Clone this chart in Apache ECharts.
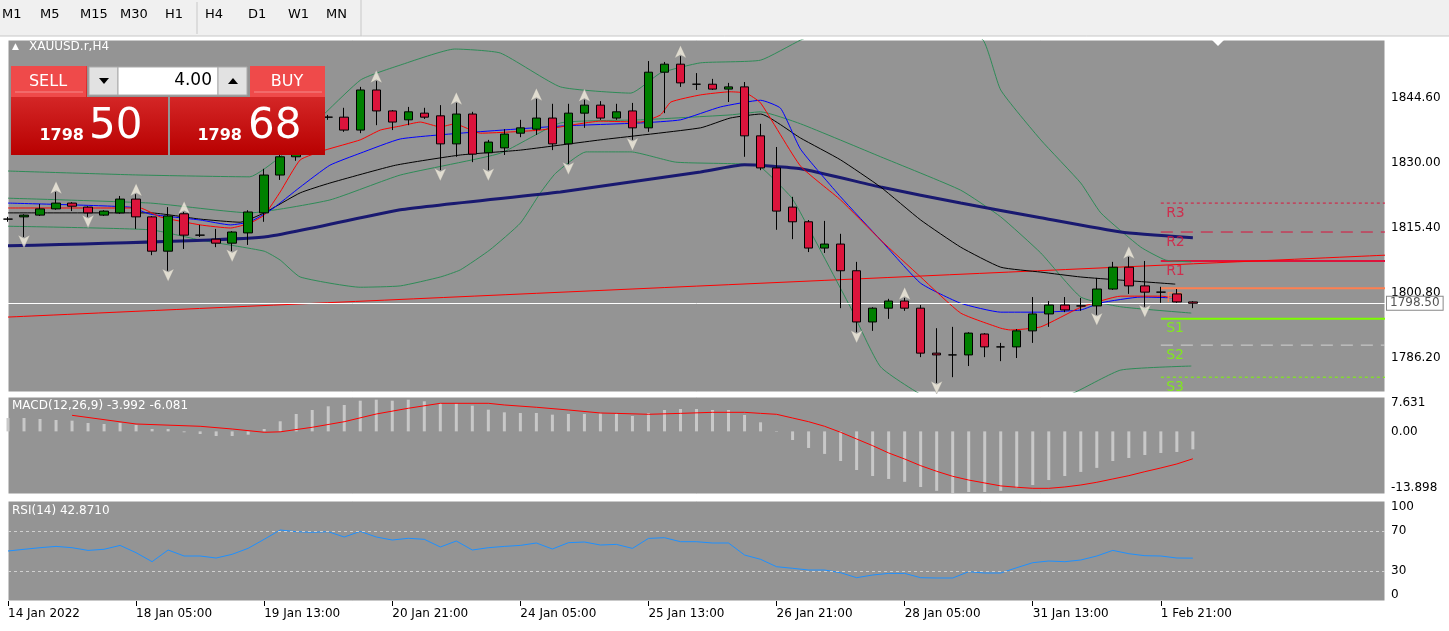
<!DOCTYPE html>
<html><head><meta charset="utf-8">
<script src="https://cdn.jsdelivr.net/npm/echarts@6/dist/echarts.min.js"></script>
<style>html,body{margin:0;padding:0;background:#fff}#c{width:1449px;height:631px}</style>
</head><body><div id="c"></div>
<script>
// ---------- DATA ----------
const tickLabels = ['14 Jan 2022','18 Jan 05:00','19 Jan 13:00','20 Jan 21:00','24 Jan 05:00','25 Jan 13:00','26 Jan 21:00','28 Jan 05:00','31 Jan 13:00','1 Feb 21:00'];
const priceTicks = [1786.20,1800.80,1815.40,1830.00,1844.60];
// [open, close, low, high]
const candles = [
[1817.4,1817.4,1816.8,1817.9],[1817.9,1818.3,1813.4,1818.5],[1818.3,1819.7,1818.1,1820.8],[1819.7,1821.0,1819.5,1823.5],
[1821.0,1820.3,1819.2,1821.2],[1820.1,1818.8,1817.9,1820.3],[1818.3,1819.2,1818.1,1819.4],[1818.8,1821.9,1818.6,1822.6],
[1821.9,1817.9,1815.2,1823.0],[1817.9,1810.2,1809.3,1818.1],[1810.2,1818.1,1805.8,1820.1],[1818.6,1813.8,1810.7,1819.0],
[1813.8,1813.8,1813.4,1816.1],[1812.9,1812.0,1811.1,1815.2],[1812.0,1814.5,1810.2,1814.7],[1814.3,1819.0,1811.6,1819.4],
[1818.8,1827.3,1816.8,1828.7],[1827.3,1831.4,1826.2,1832.0],[1831.4,1836.3,1830.5,1837.5],[1836.3,1839.7,1835.0,1841.5],
[1840.3,1840.3,1839.7,1840.8],[1840.3,1837.4,1837.0,1842.4],[1837.4,1846.4,1836.7,1847.1],[1846.4,1841.7,1838.5,1848.4],
[1841.7,1839.2,1837.4,1841.9],[1839.7,1841.5,1838.5,1842.6],[1841.2,1840.3,1839.9,1842.4],[1840.6,1834.3,1828.4,1843.0],
[1834.3,1841.0,1831.4,1843.5],[1841.0,1832.0,1830.2,1841.5],[1832.3,1834.7,1828.4,1835.2],[1833.4,1836.5,1831.8,1837.6],
[1836.7,1837.9,1835.8,1839.7],[1837.6,1840.1,1836.3,1844.4],[1840.1,1834.3,1832.9,1843.3],[1834.3,1841.2,1829.8,1843.3],
[1841.2,1843.0,1837.9,1844.2],[1843.0,1840.1,1839.7,1843.9],[1840.1,1841.5,1839.7,1843.3],[1841.7,1837.9,1835.2,1843.5],
[1837.9,1850.4,1837.0,1852.9],[1850.4,1852.2,1841.2,1852.7],[1852.2,1848.0,1847.1,1854.0],[1847.7,1847.7,1846.4,1850.2],
[1847.7,1846.6,1846.4,1848.9],[1846.6,1847.1,1843.7,1848.0],[1847.1,1836.1,1831.4,1848.2],[1836.1,1828.9,1828.4,1838.8],
[1828.9,1819.2,1815.0,1833.6],[1820.1,1816.8,1812.9,1822.4],[1816.8,1810.9,1810.0,1817.2],[1810.9,1811.8,1809.8,1817.0],
[1811.8,1805.8,1797.4,1814.1],[1805.8,1794.3,1792.0,1807.8],[1794.3,1797.4,1792.3,1797.6],[1797.4,1799.0,1795.0,1799.5],
[1799.0,1797.4,1796.8,1799.7],[1797.4,1787.3,1786.4,1798.1],[1787.3,1786.9,1780.6,1792.9],[1786.9,1786.9,1781.9,1793.2],
[1786.9,1791.8,1784.4,1792.0],[1791.6,1788.7,1786.4,1791.8],[1788.7,1788.7,1785.5,1789.6],[1788.7,1792.3,1786.2,1792.7],
[1792.3,1796.1,1789.6,1799.9],[1796.1,1798.1,1793.2,1799.0],[1798.1,1797.0,1796.5,1799.9],[1797.9,1797.9,1796.8,1799.7],
[1797.9,1801.7,1795.9,1804.2],[1801.7,1806.6,1801.5,1807.8],[1806.6,1802.4,1800.6,1808.9],[1802.4,1801.0,1797.7,1808.0],
[1801.0,1801.0,1798.6,1802.2],[1800.6,1798.8,1798.6,1801.7],[1798.8,1798.5,1797.4,1799.0]
];
const fractalUp = [3,8,11,23,28,33,36,42,56,70];
const fractalDown = [1,5,10,14,27,30,35,39,53,58,68,71];
// indicator lines: [bar index, price]
const maFast = [[0,1819.9],[8.25,1819.9],[9.5,1817.9],[12,1816.1],[13.9,1815.4],[15.1,1816.5],[16,1818.3],[17,1823.5],[18.25,1830.7],[19.8,1832.9],[22,1835.2],[23.25,1837.4],[24.5,1838.3],[25.75,1839.2],[27,1838.1],[27.9,1838.8],[29.5,1836.7],[33.25,1837.4],[37,1839.4],[39.5,1839.2],[40.75,1840.8],[41.4,1843.7],[43.25,1845.3],[45.1,1846.0],[46.1,1845.7],[47,1843.5],[49.5,1829.3],[52,1821.7],[54.5,1812.7],[57,1804.4],[59.5,1796.3],[62,1792.9],[62.6,1792.5],[64.5,1793.2],[67,1797.6],[69.5,1800.1],[72,1800.1],[72.9,1799.7]];
const maMid = [[0,1821.0],[7.6,1820.1],[8.9,1818.5],[12,1817.2],[13.9,1816.1],[15.1,1816.8],[16.4,1819.4],[18.25,1824.6],[20.1,1829.5],[22,1832.2],[24.5,1835.4],[28.25,1836.7],[34.5,1838.3],[39.5,1839.0],[42,1839.7],[44.5,1842.6],[47,1844.1],[48.25,1842.3],[49.5,1833.1],[52,1822.4],[54.5,1812.7],[57,1803.0],[59.5,1798.5],[62,1796.5],[64.5,1796.5],[67,1797.0],[68.25,1798.6],[70.75,1799.9],[72.9,1799.7]];
const maSlow = [[0,1818.8],[8.9,1818.8],[12,1817.4],[14.5,1816.7],[16,1818.8],[18.25,1823.3],[20.1,1825.5],[24.2,1829.5],[28.25,1831.8],[32,1832.9],[37,1835.2],[43.25,1837.9],[45.1,1840.1],[47,1841.0],[49.5,1835.6],[52,1830.7],[54.5,1824.6],[57,1817.2],[59.5,1811.1],[62,1806.6],[64.5,1805.5],[67,1804.4],[69.5,1803.7],[72.9,1802.8]];
const maLong = [[0,1811.4],[16,1813.4],[24.5,1819.5],[34.5,1823.5],[43.25,1828.0],[46,1829.6],[49.5,1828.7],[54.5,1824.6],[59.5,1821.0],[64.5,1817.7],[69.5,1814.5],[74,1813.2]];
const bbUpper = [[0,1828.2],[8.25,1827.3],[15.1,1826.9],[17,1831.4],[22,1848.6],[24.5,1852.0],[27.9,1855.6],[30.75,1854.7],[34.5,1847.1],[38.9,1845.7],[40.75,1850.2],[43.25,1852.5],[47,1853.1],[49.5,1857.6],[52.6,1862],[55.75,1864],[58.25,1863],[60.9,1857.6],[62,1846.4],[64.5,1835.2],[67,1825.5],[68.25,1818.8],[70.75,1811.1],[72.3,1808.2],[73.9,1807.8]];
const bbMiddle = [[0,1822.1],[8.9,1821.0],[15.1,1818.8],[20.1,1821.7],[24.5,1827.3],[30.75,1832.2],[34.5,1839.0],[39.5,1839.7],[45.1,1840.8],[47,1841.5],[49.5,1838.8],[54.5,1831.4],[59.5,1823.9],[62,1817.9],[64.5,1809.8],[67,1799.9],[69.5,1797.7],[73.9,1796.3]];
const bbLower = [[0,1815.8],[8.9,1815.0],[12,1812.7],[16,1810.2],[17,1808.2],[18.25,1804.4],[22,1802.1],[24.5,1802.4],[27,1804.4],[28.25,1806.0],[30.1,1810.5],[32,1816.5],[33.25,1823.3],[34.2,1827.7],[36.1,1832.5],[38.9,1832.5],[41.7,1830.2],[45.75,1829.8],[47,1829.1],[48.9,1822.4],[49.5,1818.8],[52.6,1797.7],[54.5,1784.2],[57.6,1776.8],[60.75,1773.4],[63.9,1774.5],[66.7,1778.6],[69.5,1783.5],[73.9,1784.4]];
const trendLine = [[0,1795.4],[86,1809.3]];
const pivots = [['R3',1821.0],['R2',1814.5],['R1',1808.0],['PP',1801.9],['S1',1795.0],['S2',1789.1],['S3',1781.9]];
const bidPrice = 1798.50;
const macdHist = [2.97,2.97,2.75,2.53,2.38,1.86,1.64,1.86,1.42,0.53,0.53,-0.2,-0.58,-1.02,-1.02,-0.73,0.53,2.24,3.86,4.75,5.57,5.86,6.81,7.04,6.81,7.04,6.68,6.30,6.23,5.70,4.82,4.23,4.08,4.08,3.71,3.86,3.86,4.0,3.86,3.42,4.08,4.75,4.97,4.97,4.75,4.75,3.64,2.01,-0.1,-1.91,-3.68,-5.0,-6.57,-8.57,-9.9,-10.56,-11.2,-12.34,-13.2,-13.67,-13.45,-13.45,-13.2,-12.56,-11.9,-10.8,-9.9,-9.0,-8.1,-6.57,-5.9,-5.24,-4.79,-4.57,-3.99];
const macdSignal = [[4,3.57],[8,1.64],[12,1.13],[14,0.53],[16,-0.2],[17,-0.1],[19,0.91],[21,2.15],[23,3.86],[25,5.13],[27,6.23],[30,6.23],[31,5.86],[33,5.35],[35,4.75],[37,4.08],[38,4.0],[40,3.79],[42,4.0],[44,4.23],[46,4.23],[47,4.0],[48,3.79],[49,2.97],[50,2.15],[51,1.13],[52,-0.2],[53,-1.69],[54,-3.17],[55,-4.79],[56,-6.13],[57,-7.61],[58,-8.86],[59,-9.97],[60,-10.8],[61,-11.45],[62,-12.1],[63,-12.4],[64,-12.64],[65,-12.64],[66,-12.34],[67,-11.9],[68,-11.3],[69,-10.56],[70,-9.83],[71,-8.94],[72,-8.12],[73,-7.23],[74,-6.08]];
const rsi = [50,51.7,53.3,54.6,53.3,50.6,51.7,55.6,48.3,39.3,51,45,45,43,46.7,52.7,61.7,71,69.3,68.7,69.3,64,69.6,64,61,62.7,61.7,54,60,51,53.3,54.6,55.6,58,52,58.3,59,56,56.6,52.6,62.6,63.3,59.3,59.3,58,58,46,41.7,34.3,32.7,31,31,28.3,23.3,26,27.6,27.6,23.3,23,23,29.3,28,28,33.3,38.3,40,39.3,41,45,50.6,47.3,45.3,45,43,42.87];

// ---------- CHART ----------
const NBARS = 87;
const cats = Array.from({length:NBARS},(_, i)=> (i%8===0 && i/8 < tickLabels.length) ? tickLabels[i/8] : ' '+i);
const isTick = i => i%8===0 && i/8 < tickLabels.length;
const F = 'DejaVu Sans';
const chart = echarts.init(document.getElementById('c'));
const BG = '#949494';
const gridBase = {left:8, width:1377, show:true, backgroundColor:BG, borderColor:'#fff', borderWidth:1};
const catAxis = (gi, show) => ({type:'category', gridIndex:gi, data:cats, boundaryGap:false,
  axisLine:{show:false}, axisTick:{show:show, interval:isTick, length:5, lineStyle:{color:'#000'}},
  axisLabel:{show:show, interval:isTick, align:'left', color:'#000', fontFamily:F, fontSize:12, margin:7,
    formatter:v=> v.startsWith(' ')?'':v}, splitLine:{show:false}});
const labStyle = {color:'#000', fontFamily:F, fontSize:12, margin:6};
const pivotColor = n => n[0]==='R' ? '#dc143c' : (n==='PP' ? '#ff7f50' : '#7cfc00');
const pivotStyle = {R3:{type:[3,3],width:1},R2:{type:[12,8],width:1},R1:{type:'solid',width:2},PP:{type:'solid',width:2},S1:{type:'solid',width:2},S2:{type:[12,8],width:1},S3:{type:[3,3],width:1}};
const lineS = (data, color, width) => ({type:'line', xAxisIndex:3, yAxisIndex:0, data, showSymbol:false, smooth:0.15,
  lineStyle:{color, width}, silent:true, z:3});

const series = [
  lineS(trendLine,'#ff0000',1),
  lineS(bbUpper,'#2e8b57',1), lineS(bbMiddle,'#2e8b57',1), lineS(bbLower,'#2e8b57',1),
  lineS(maLong,'#191970',3), lineS(maSlow,'#000000',1), lineS(maMid,'#0000ff',1), lineS(maFast,'#ff0000',1),
  ...pivots.map(([n,v]) => ({type:'line', xAxisIndex:3, yAxisIndex:0, data:[[72,v],[86,v]], showSymbol:false, z:2,
     lineStyle:{color: n==='S2' ? '#d3d3d3' : pivotColor(n), width:pivotStyle[n].width, type:pivotStyle[n].type}})),
  {type:'scatter', xAxisIndex:3, yAxisIndex:0, symbolSize:1, itemStyle:{color:'rgba(0,0,0,0)'}, z:4,
   data: pivots.map(([n,v]) => ({value:[72.3,v], label:{show:true, formatter:n, position:'right', offset:[-5,10],
     color:pivotColor(n), fontFamily:F, fontSize:14}}))},
  {type:'candlestick', xAxisIndex:0, yAxisIndex:0, data:candles, barWidth:9, z:5,
   itemStyle:{color:'#008000', color0:'#dc143c', borderColor:'#000', borderColor0:'#000', borderWidth:1},
   markLine:{silent:true, symbol:'none', data:[{yAxis:bidPrice}], lineStyle:{color:'#fff', width:1, type:'solid'},
     label:{show:true, position:'end', formatter:'1798.50', color:'#555', backgroundColor:'#fff', borderColor:'#888', borderWidth:1,
       padding:[1,3,0,3], fontFamily:F, fontSize:12, distance:2}}},
  {type:'scatter', xAxisIndex:0, yAxisIndex:0, symbol:'arrow', symbolSize:[9,13], symbolOffset:[0,-11], z:6,
   itemStyle:{color:'#f2eedf', borderColor:'#888', borderWidth:0.5}, data: fractalUp.map(i=>[i, candles[i][3]])},
  {type:'scatter', xAxisIndex:0, yAxisIndex:0, symbol:'arrow', symbolRotate:180, symbolSize:[9,13], symbolOffset:[0,11], z:6,
   itemStyle:{color:'#f2eedf', borderColor:'#888', borderWidth:0.5}, data: fractalDown.map(i=>[i, candles[i][2]])},
  {type:'bar', xAxisIndex:1, yAxisIndex:1, data:macdHist, barWidth:3, itemStyle:{color:'#c8c8c8'}, silent:true},
  {type:'line', xAxisIndex:1, yAxisIndex:1, data:macdSignal, showSymbol:false, lineStyle:{color:'#ff0000', width:1}, silent:true},
  {type:'line', xAxisIndex:2, yAxisIndex:2, data:rsi, showSymbol:false, lineStyle:{color:'#1e90ff', width:1}, silent:true,
   markLine:{silent:true, symbol:'none', data:[{yAxis:30},{yAxis:70}], lineStyle:{color:'#d0d0d0', type:[3,3], width:1}, label:{show:false}}}
];

const txt = (x,y,t,o={}) => ({type:'text', x, y, z:120, style:Object.assign({text:t, fill:'#fff', font:`12px "${F}"`}, o)});
const tfs = [['M1',2],['M5',40],['M15',80],['M30',120],['H1',165],['H4',205],['D1',248],['W1',288],['MN',326]];
const grad = () => new echarts.graphic.LinearGradient(0,0,0,1,[{offset:0,color:'#e33b3b'},{offset:1,color:'#b80000'}]);
const graphic = [
  {type:'rect', shape:{x:0,y:0,width:1449,height:36}, style:{fill:'#f0f0f0'}, z:90},
  {type:'line', shape:{x1:0,y1:36,x2:1449,y2:36}, style:{stroke:'#c8c8c8'}, z:91},
  {type:'line', shape:{x1:197,y1:2,x2:197,y2:34}, style:{stroke:'#c8c8c8'}, z:91},
  {type:'line', shape:{x1:361,y1:0,x2:361,y2:36}, style:{stroke:'#c8c8c8'}, z:91},
  ...tfs.map(([t,x]) => txt(x,8,t,{fill:'#000', font:`13px "${F}"`})),
  txt(12,42,'▲',{font:`9px "${F}"`}), txt(29,41,'XAUUSD.r,H4'),
  txt(12,400,'MACD(12,26,9) -3.992 -6.081'), txt(12,505,'RSI(14) 42.8710'),
  {type:'polygon', shape:{points:[[1211,39],[1225,39],[1218,46]]}, style:{fill:'#fff'}, z:100},
  // trade panel
  {type:'rect', shape:{x:11,y:66,width:157,height:89}, style:{fill:grad()}, z:100},
  {type:'rect', shape:{x:170,y:66,width:155,height:89}, style:{fill:grad()}, z:100},
  {type:'rect', shape:{x:11,y:66,width:75,height:31}, style:{fill:'#ef4a4a'}, z:101},
  {type:'rect', shape:{x:250,y:66,width:75,height:31}, style:{fill:'#ef4a4a'}, z:101},
  {type:'line', shape:{x1:15,y1:92,x2:83,y2:92}, style:{stroke:'#f58a8a'}, z:102},
  {type:'line', shape:{x1:254,y1:92,x2:322,y2:92}, style:{stroke:'#f58a8a'}, z:102},
  {type:'rect', shape:{x:87,y:64,width:163,height:33}, style:{fill:BG}, z:101},
  {type:'rect', shape:{x:89,y:67,width:29,height:28}, style:{fill:'#e2e2e2', stroke:'#aaa'}, z:102},
  {type:'rect', shape:{x:118,y:67,width:100,height:28}, style:{fill:'#fff', stroke:'#aaa'}, z:102},
  {type:'rect', shape:{x:218,y:67,width:29,height:28}, style:{fill:'#e2e2e2', stroke:'#aaa'}, z:102},
  {type:'polygon', shape:{points:[[99,78],[109,78],[104,84]]}, style:{fill:'#000'}, z:103},
  {type:'polygon', shape:{points:[[228,84],[238,84],[233,78]]}, style:{fill:'#000'}, z:103},
  txt(212,81,'4.00',{fill:'#000', font:`17px "${F}"`, align:'right', verticalAlign:'middle'}),
  txt(48,82,'SELL',{font:`16px "${F}"`, align:'center', verticalAlign:'middle'}),
  txt(287,82,'BUY',{font:`16px "${F}"`, align:'center', verticalAlign:'middle'}),
  txt(84,144,'1798',{font:`bold 16px "${F}"`, align:'right', verticalAlign:'bottom'}),
  txt(89,148,'50',{font:`42px "${F}"`, verticalAlign:'bottom'}),
  txt(242,144,'1798',{font:`bold 16px "${F}"`, align:'right', verticalAlign:'bottom'}),
  txt(248,148,'68',{font:`42px "${F}"`, verticalAlign:'bottom'})
];

chart.setOption({
  animation:false, backgroundColor:'#fff',
  grid:[Object.assign({top:40,height:352},gridBase), Object.assign({top:397,height:97},gridBase), Object.assign({top:501,height:100},gridBase)],
  xAxis:[catAxis(0,false), catAxis(1,false), catAxis(2,true),
    {type:'value', gridIndex:0, min:0, max:86, show:false}],
  yAxis:[
    {type:'value', gridIndex:0, position:'right', min:1778.57, max:1857.63, splitLine:{show:false}, axisLine:{show:false},
     axisTick:{show:false}, axisLabel:Object.assign({customValues:priceTicks, formatter:v=>v.toFixed(2)}, labStyle)},
    {type:'value', gridIndex:1, position:'right', min:-13.898, max:7.631, splitLine:{show:false}, axisLine:{show:false},
     axisTick:{show:false},
     axisLabel:Object.assign({customValues:[-13.898,0,7.631], verticalAlignMinLabel:'bottom', verticalAlignMaxLabel:'top',
       formatter:v=> v===0?'0.00':String(v)}, labStyle)},
    {type:'value', gridIndex:2, position:'right', min:0, max:100, splitLine:{show:false}, axisLine:{show:false},
     axisTick:{show:false},
     axisLabel:Object.assign({customValues:[0,30,70,100], verticalAlignMinLabel:'bottom', verticalAlignMaxLabel:'top'}, labStyle)}
  ],
  series, graphic
});
</script></body></html>
